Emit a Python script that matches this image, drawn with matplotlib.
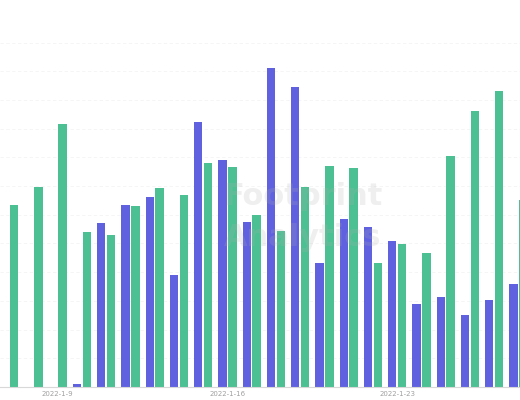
import matplotlib
matplotlib.use("Agg")
import matplotlib.pyplot as plt
import numpy as np

# days of January 2022 shown in the crop
days = list(range(7, 29))
blue_vals = [0, 0, 0, 1.0, 57.1, 63.4, 66.3, 39.0, 92.3, 79.2, 57.6, 111.1,
             104.6, 43.3, 58.5, 55.6, 51.0, 29.0, 31.5, 25.1, 30.3, 35.8]
green_vals = [63.4, 69.8, 91.6, 54.0, 53.0, 63.2, 69.3, 66.9, 78.2, 76.8, 59.9,
              54.4, 69.8, 77.0, 76.4, 43.3, 49.8, 46.7, 80.4, 96.2, 103.2, 65.2]
label_days = [9, 16, 23]

BLUE = "#5f61df"
GREEN = "#4cc093"

fig = plt.figure(figsize=(5.2, 4), dpi=100)
ax = fig.add_axes([0, 13 / 400, 1, 387 / 400])

x = np.arange(len(days))
w = 0.35
off = 0.206
ax.bar(x - off, blue_vals, width=w, color=BLUE, zorder=2)
ax.bar(x + off, green_vals, width=w, color=GREEN, zorder=2)

# very faint dashed grid
for g in range(10, 130, 10):
    ax.axhline(g, color="#f4f4f4", lw=0.6, ls=(0, (4, 3)), zorder=0)

ax.set_xlim(-0.381, 21.062)
ax.set_ylim(0, 134.84)

ticks = [days.index(d) for d in label_days]
ax.set_xticks(ticks)
ax.set_xticklabels([f"2022-1-{d}" for d in label_days], fontsize=5, color="#a0a0a0")
ax.tick_params(axis="x", length=0, pad=3)
ax.set_yticks([])
for s in ["top", "left", "right"]:
    ax.spines[s].set_visible(False)
ax.spines["bottom"].set_color("#d8d8d8")
ax.spines["bottom"].set_linewidth(0.8)

# watermark
fig.text(0.43, 0.488, "Footprint", fontsize=22, fontweight="bold",
         color="#b0b0b0", alpha=0.2, zorder=5)
fig.text(0.43, 0.385, "Analytics", fontsize=22, fontweight="bold",
         color="#b0b0b0", alpha=0.2, zorder=5)

fig.savefig("out.png", dpi=100)
